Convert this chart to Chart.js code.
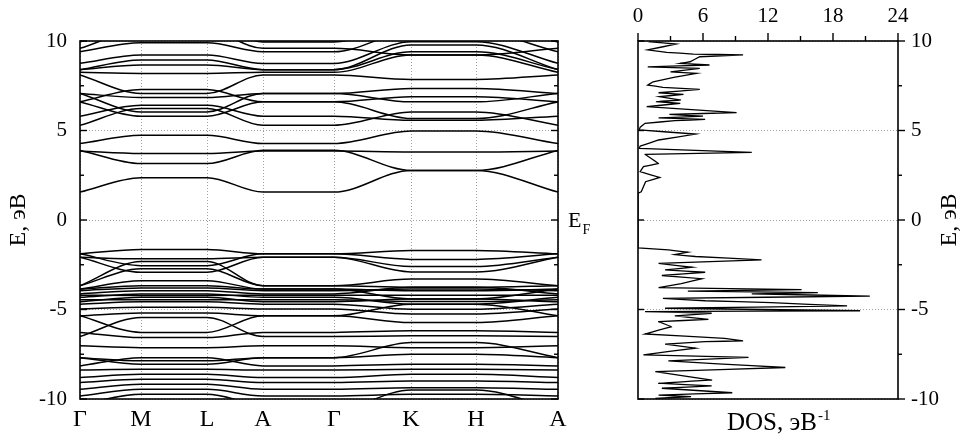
<!DOCTYPE html>
<html>
<head>
<meta charset="utf-8">
<script src="https://cdn.jsdelivr.net/npm/chart.js@4.4.1/dist/chart.umd.min.js"></script>
<style>
  html, body { margin: 0; padding: 0; background: #fff; }
  #bands { position: absolute; left: 0; top: 0; }
  #dos { position: absolute; left: 600px; top: 0; }
</style>
</head>
<body>
<canvas id="bands" width="600" height="438"></canvas>
<canvas id="dos" width="362" height="438"></canvas>
<script>
// path through the Brillouin zone
const kLabels = ['Γ', 'M', 'L', 'A', 'Γ', 'K', 'H', 'A'];
const kPos = [0, 61, 127, 183, 254, 331, 396, 478];

// band energies, eV, read at Γ (=A), M (=L) and K (=H)
const bandGamma = [
  1.56, 3.89, 3.85, 4.27, 5.29, 5.80, 6.60, 7.07, 7.07, 6.60, 8.10, 8.25, 8.40, 8.40, 8.75, 9.40, 9.59, 9.95,
  -1.89, -1.89, -2.08, -2.08, -3.67, -3.67, -3.86, -3.86, -3.95, -4.13, -4.20, -4.32, -4.45, -4.57, -4.70, -4.97,
  -5.35, -5.35, -6.28, -6.51, -7.03, -7.69, -7.69, -8.15, -8.38, -8.80, -9.08, -9.46, -9.83, -10.3, -10.6
];
const bandM = [
  2.36, 3.15, 3.71, 4.73, 6.23, 6.41, 5.80, 6.04, 6.84, 7.29, 7.07, 8.19, 8.66, 8.94, 9.22, 9.90, 10.6, 11.0,
  -1.65, -2.55, -2.92, -2.17, -2.32, -2.73, -3.39, -3.67, -3.80, -3.95, -4.22, -4.13, -4.45, -4.32, -4.57, -4.88,
  -5.20, -6.28, -6.57, -5.44, -7.13, -7.87, -8.06, -7.69, -8.34, -8.62, -8.90, -9.18, -9.46, -9.74, -10.3
];
const bandK = [
  2.77, 2.77, 3.80, 4.97, 6.04, 5.57, 6.88, 6.60, 7.35, 5.67, 7.85, 9.22, 9.40, 9.78, 9.96, 10.5, 9.22, 11.0,
  -1.70, -2.20, -2.60, -2.90, -3.30, -3.76, -3.95, -4.41, -3.85, -3.76, -4.20, -4.70, -4.55, -4.41, -4.98, -5.25,
  -4.70, -5.73, -6.19, -6.47, -7.13, -7.50, -6.85, -8.06, -8.34, -8.62, -8.99, -9.37, -9.74, -10.2, -9.5
];

// density of states, from top to bottom
const dosEnergy = [
  10.0, 9.96, 9.83, 9.5, 9.37, 9.27, 9.22, 9.12, 8.84, 8.75, 8.66, 8.56, 8.47, 8.28, 8.19, 7.97, 7.72, 7.54,
  7.41, 7.30, 7.11, 7.02, 6.89, 6.70, 6.61, 6.52, 6.33, 6.0, 5.9, 5.8, 5.7, 5.62, 5.55, 5.4, 5.18, 5.03,
  4.8, 4.47, 4.13, 4.0, 3.78, 3.67, 3.16, 2.98, 2.70, 2.38, 2.14, 1.58, 1.49,
  -1.56, -1.67, -1.8, -1.93, -2.04, -2.23, -2.42, -2.64, -2.79, -2.92, -3.1, -3.28, -3.56, -3.78, -3.89,
  -3.97, -4.06, -4.13, -4.25, -4.38, -4.51, -4.62, -4.8, -4.93, -5.07, -5.12, -5.21, -5.36, -5.55, -5.68,
  -5.96, -6.15, -6.37, -6.61, -6.75, -6.80, -6.94, -7.16, -7.53, -7.68, -7.87, -8.04, -8.24, -8.47, -8.94,
  -9.12, -9.27, -9.4, -9.65, -9.78, -9.87, -9.96
];
const dosValue = [
  1.2, 1.1, 3.5, 0.9, 2.65, 5.1, 9.7, 5.7, 4.8, 3.9, 6.6, 0.9, 5.7, 3.0, 5.4, 3.3, 1.4, 0.9,
  2.3, 5.7, 1.9, 4.2, 2.0, 3.9, 1.7, 3.9, 0.8, 9.1, 2.9, 6.0, 1.9, 6.2, 3.4, 0.65, 0.2, 0.1,
  5.3, 1.9, 0.2, 0.1, 10.5, 0.65, 1.9, 0.5, 0.2, 2.0, 0.7, 0.3, 0,
  0, 2.8, 4.6, 3.4, 5.3, 11.4, 1.9, 5.0, 2.5, 6.2, 2.2, 5.9, 4.0, 1.9, 15.1,
  4.6, 16.6, 10.5, 21.4, 2.3, 6.2, 12.3, 19.3, 2.5, 20.5, 0.65, 6.8, 3.4, 6.5, 1.9,
  3.1, 1.9, 0.65, 8.0, 9.7, 6.2, 2.5, 5.3, 0.5, 10.2, 2.8, 7.4, 13.6, 1.6, 6.8,
  1.9, 6.8, 2.2, 8.7, 1.9, 4.9, 1.6
];

const energyTicks = [-10, -5, 0, 5, 10];
const dosTicks = [0, 6, 12, 18, 24];

const serif = 'Liberation Serif';
Chart.defaults.font.family = serif;
Chart.defaults.color = '#000';

// frame round the plot area plus tick marks (positive length = inward)
const frame = {
  id: 'frame',
  afterDatasetsDraw(chart, args, opts) {
    const { ctx, chartArea: a } = chart;
    ctx.save();
    ctx.strokeStyle = '#000';
    ctx.lineWidth = 1.6;
    ctx.strokeRect(a.left, a.top, a.right - a.left, a.bottom - a.top);
    ctx.lineWidth = 1.4;
    (opts.marks || []).forEach(m => {
      const sc = chart.scales[m.axis];
      const vals = sc.ticks.map(t => t.value);
      const all = [];
      vals.forEach((v, i) => {
        all.push([v, m.major]);
        if (m.minor && i < vals.length - 1) all.push([(v + vals[i + 1]) / 2, m.minor]);
      });
      all.forEach(([v, len]) => {
        const p = sc.getPixelForValue(v);
        ctx.beginPath();
        if (m.edge === 'left') { ctx.moveTo(a.left, p); ctx.lineTo(a.left + len, p); }
        if (m.edge === 'right') { ctx.moveTo(a.right, p); ctx.lineTo(a.right - len, p); }
        if (m.edge === 'top') { ctx.moveTo(p, a.top); ctx.lineTo(p, a.top + len); }
        if (m.edge === 'bottom') { ctx.moveTo(p, a.bottom); ctx.lineTo(p, a.bottom - len); }
        ctx.stroke();
      });
    });
    ctx.restore();
  }
};

// free texts: axis titles, E_F, DOS label
const texts = {
  id: 'texts',
  afterDraw(chart, args, opts) {
    const ctx = chart.ctx;
    (opts.items || []).forEach(t => {
      ctx.save();
      ctx.fillStyle = '#000';
      ctx.translate(t.x, t.y);
      if (t.rot) ctx.rotate(t.rot);
      ctx.font = t.size + 'px "' + serif + '"';
      ctx.textBaseline = 'alphabetic';
      const w = ctx.measureText(t.text).width;
      let x0 = t.align === 'center' ? -w / 2 : 0;
      ctx.textAlign = 'left';
      ctx.fillText(t.text, x0, 0);
      if (t.sub) {
        ctx.font = Math.round(t.size * 0.65) + 'px "' + serif + '"';
        ctx.fillText(t.sub, x0 + w + 1, t.size * 0.3);
      }
      if (t.sup) {
        ctx.font = Math.round(t.size * 0.6) + 'px "' + serif + '"';
        ctx.fillText(t.sup, x0 + w + 1, -t.size * 0.42);
      }
      ctx.restore();
    });
  }
};

const dotted = { color: '#a0a0a0', lineWidth: 1, drawTicks: false };
const dottedBorder = { display: false, dash: [1, 2] };

const bandSets = bandGamma.map((g, i) => {
  const m = bandM[i], k = bandK[i];
  const e = [g, m, m, g, g, k, k, g];
  return {
    data: kPos.map((x, j) => ({ x: x, y: e[j] })),
    borderColor: '#000',
    borderWidth: 1.5,
    pointRadius: 0,
    cubicInterpolationMode: 'monotone'
  };
});

new Chart(document.getElementById('bands'), {
  type: 'line',
  data: { datasets: bandSets },
  options: {
    responsive: false,
    animation: false,
    layout: { padding: { top: 41, right: 42, left: 0, bottom: 0 } },
    plugins: {
      legend: { display: false },
      tooltip: { enabled: false },
      frame: { marks: [
        { axis: 'y', edge: 'left', major: 7, minor: 4 },
        { axis: 'y', edge: 'right', major: 7, minor: 4 }
      ] },
      texts: { items: [
        { text: 'E, эВ', x: 25, y: 220, rot: -Math.PI / 2, align: 'center', size: 24 },
        { text: 'E', x: 568, y: 227, size: 22, sub: 'F' }
      ] }
    },
    scales: {
      x: {
        type: 'linear', min: 0, max: 478,
        afterBuildTicks: s => { s.ticks = kPos.map(v => ({ value: v })); },
        afterFit: s => { s.height = 39; },
        grid: dotted, border: dottedBorder,
        ticks: { font: { size: 24 }, padding: 6, maxRotation: 0, autoSkip: false,
          callback: (v, i) => kLabels[i] }
      },
      y: {
        type: 'linear', min: -10, max: 10,
        afterBuildTicks: s => { s.ticks = energyTicks.map(v => ({ value: v })); },
        afterFit: s => { s.width = 80; },
        grid: dotted, border: dottedBorder,
        ticks: { font: { size: 21 }, padding: 13 }
      }
    }
  },
  plugins: [frame, texts]
});

new Chart(document.getElementById('dos'), {
  type: 'line',
  data: { datasets: [{
    data: dosEnergy.map((e, i) => ({ x: dosValue[i], y: e })),
    borderColor: '#000',
    borderWidth: 1.3,
    pointRadius: 0,
    tension: 0.0001
  }] },
  options: {
    responsive: false,
    animation: false,
    layout: { padding: { top: 0, right: 0, left: 38, bottom: 39 } },
    plugins: {
      legend: { display: false },
      tooltip: { enabled: false },
      frame: { marks: [
        { axis: 'x', edge: 'top', major: -8, minor: -5 },
        { axis: 'y', edge: 'right', major: -7, minor: -4 },
        { axis: 'y', edge: 'left', major: 6 }
      ] },
      texts: { items: [
        { text: 'E, эВ', x: 356, y: 220, rot: -Math.PI / 2, align: 'center', size: 24 },
        { text: 'DOS, эВ', x: 127, y: 430, size: 25, sup: '-1' }
      ] }
    },
    scales: {
      x: {
        type: 'linear', position: 'top', min: 0, max: 24,
        afterBuildTicks: s => { s.ticks = dosTicks.map(v => ({ value: v })); },
        afterFit: s => { s.height = 41; },
        grid: { display: false, drawTicks: false }, border: { display: false },
        ticks: { font: { size: 21 }, padding: 12, maxRotation: 0 }
      },
      y: {
        type: 'linear', position: 'right', min: -10, max: 10,
        afterBuildTicks: s => { s.ticks = energyTicks.map(v => ({ value: v })); },
        afterFit: s => { s.width = 64; },
        grid: dotted, border: dottedBorder,
        ticks: { font: { size: 21 }, padding: 13 }
      }
    }
  },
  plugins: [frame, texts]
});
</script>
</body>
</html>
